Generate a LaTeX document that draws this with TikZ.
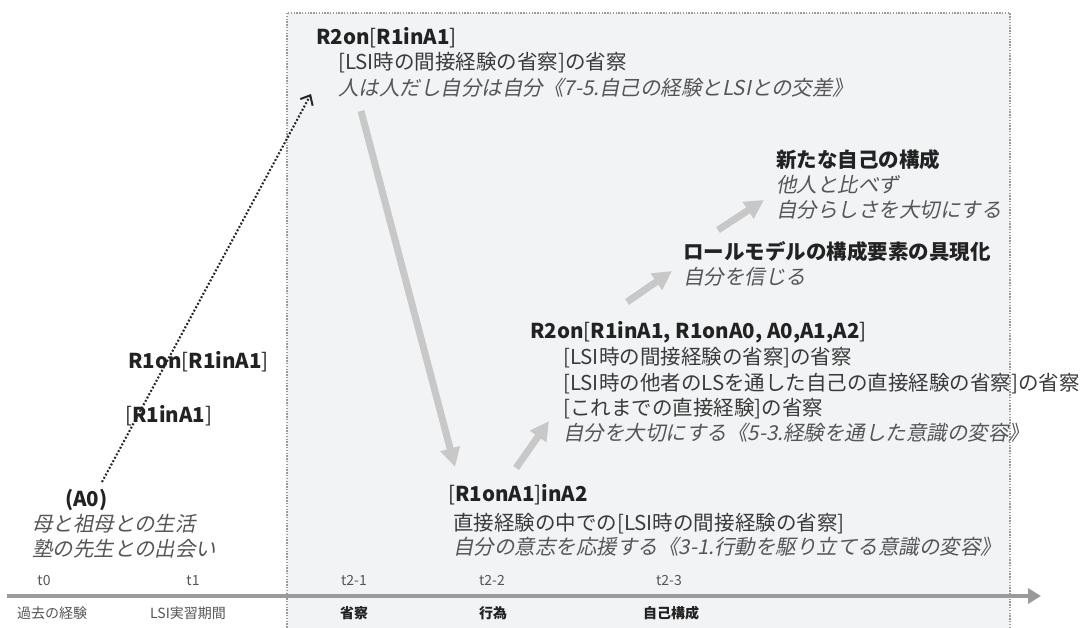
\documentclass[tikz,border=0pt]{standalone}
\usepackage{fontspec}
\setmainfont{Noto Sans CJK JP}
\newfontfamily\itf{Noto Sans CJK JP}[FakeSlant=0.2]
\usetikzlibrary{arrows.meta}
\definecolor{boxfill}{HTML}{F2F3F5}
\definecolor{boxline}{HTML}{9A9A9A}
\definecolor{txtgray}{HTML}{3A3A3A}
\definecolor{titgray}{HTML}{222222}
\definecolor{itgray}{HTML}{555555}
\definecolor{arrgray}{HTML}{C8C8C8}
\definecolor{axisgray}{HTML}{9A9A9A}
\tikzset{
  tx/.style={anchor=base west, inner sep=0pt, text=txtgray, font=\fontsize{20.5}{25}\selectfont},
  tit/.style={tx, text=titgray},
  itx/.style={tx, text=itgray, font=\itf\fontsize{20.5}{25}\selectfont},
  tlab/.style={anchor=center, inner sep=0pt, text=itgray, font=\fontsize{14}{16}\selectfont},
  tlabb/.style={tlab, text=titgray, font=\bfseries\fontsize{14}{16}\selectfont},
  grayarrow/.style={draw=arrgray, line width=7pt, -{Triangle[length=19pt,width=19pt]}},
  dotarrow/.style={draw=black!85, line width=2.1pt, dash pattern=on 1.9pt off 1.9pt, -{Straight Barb[length=8pt,width=14pt,line width=2pt]}},
  axis/.style={draw=axisgray, line width=4.5pt, -{Triangle[length=13pt,width=15pt]}},
  periodbox/.style={draw=boxline, fill=boxfill, line width=1.4pt, dash pattern=on 1.4pt off 1.4pt}
}
\begin{document}
\begin{tikzpicture}[x=1pt,y=-1pt]
\useasboundingbox (0,0) rectangle (1089,628);
% shaded period box
\path[periodbox] (287,13) rectangle (1010,645);
% timeline
\coordinate (ax0) at (7,596);
\coordinate (ax1) at (1041,596);
\draw[axis] (ax0) -- (ax1);
% time labels
\node[tlab] (t0) at (44,581) {t0};
\node[tlab] (t1) at (193,581) {t1};
\node[tlab] (t21) at (354,581) {t2-1};
\node[tlab] (t22) at (492,581) {t2-2};
\node[tlab] (t23) at (669,581) {t2-3};
\node[tlab] (p0) at (52,613) {過去の経験};
\node[tlab] (p1) at (188,613) {LSI実習期間};
\node[tlabb] (p21) at (354,613) {省察};
\node[tlabb] (p22) at (493,613) {行為};
\node[tlabb] (p23) at (671,613) {自己構成};
% A0 block
\node[tit] (a0) at (65,506) {\bfseries (A0)};
\node[itx] (a0l1) at (32,531) {母と祖母との生活};
\node[itx] (a0l2) at (32,556) {塾の先生との出会い};
% R1 labels
\node[tit] (r1on) at (128,368) {{\bfseries R1on}[{\bfseries R1inA1}]};
\node[tit] (r1in) at (125,422) {[{\bfseries R1inA1}]};
% top block
\node[tit] (r2a) at (316,45) {{\bfseries R2on}[{\bfseries R1inA1}]};
\node[tx] (r2al1) at (338,70) {[LSI時の間接経験の省察]の省察};
\node[itx] (r2al2) at (338,96) {人は人だし自分は自分《7-5.自己の経験とLSIとの交差》};
% R1onA1 inA2 block
\node[tit] (r1a2) at (448,501) {[{\bfseries R1onA1}]{\bfseries inA2}};
\node[tx] (r1a2l1) at (453,530) {直接経験の中での[LSI時の間接経験の省察]};
\node[itx] (r1a2l2) at (453,554) {自分の意志を応援する《3-1.行動を駆り立てる意識の変容》};
% R2on big block
\node[tit] (r2b) at (530,338) {{\bfseries R2on}[{\bfseries R1inA1, R1onA0, A0,A1,A2}]};
\node[tx] (r2bl1) at (563,364) {[LSI時の間接経験の省察]の省察};
\node[tx] (r2bl2) at (563,390) {[LSI時の他者のLSを通した自己の直接経験の省察]の省察};
\node[tx] (r2bl3) at (563,415) {[これまでの直接経験]の省察};
\node[itx] (r2bl4) at (563,440) {自分を大切にする《5-3.経験を通した意識の変容》};
% role model block
\node[tit] (rm) at (683,260) {\bfseries ロールモデルの構成要素の具現化};
\node[itx] (rml1) at (683,284) {自分を信じる};
% new self block
\node[tit] (ns) at (776,168) {\bfseries 新たな自己の構成};
\node[itx] (nsl1) at (776,193) {他人と比べず};
\node[itx] (nsl2) at (776,218) {自分らしさを大切にする};
% arrows
\coordinate (d0) at (102,482);
\coordinate (d1) at (311,94);
\draw[dotarrow] (d0) -- (d1);
\coordinate (g1s) at (361,111);
\coordinate (g1e) at (455,467);
\draw[grayarrow] (g1s) -- (g1e);
\coordinate (g2s) at (516,468);
\coordinate (g2e) at (549,421);
\draw[grayarrow] (g2s) -- (g2e);
\coordinate (g3s) at (627,302);
\coordinate (g3e) at (672,271);
\draw[grayarrow] (g3s) -- (g3e);
\coordinate (g4s) at (718,230);
\coordinate (g4e) at (764,200);
\draw[grayarrow] (g4s) -- (g4e);
\end{tikzpicture}
\end{document}
